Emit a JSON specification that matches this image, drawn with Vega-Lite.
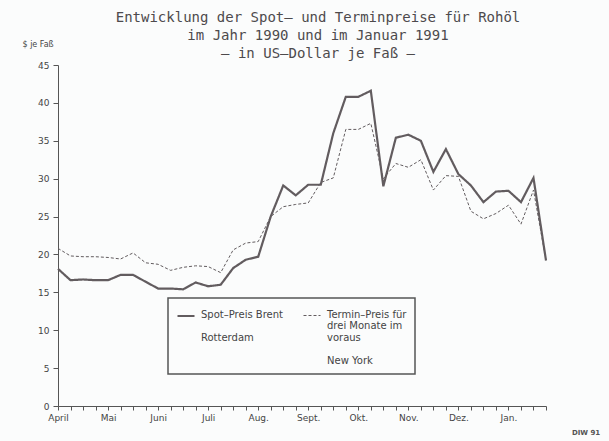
{
  "$schema": "https://vega.github.io/schema/vega-lite/v6.json",
  "width": 488,
  "height": 341,
  "autosize": "none",
  "padding": {"left": 58, "top": 65, "right": 63, "bottom": 35},
  "background": "#fbfcfc",
  "config": {"view": {"stroke": null}, "font": "DejaVu Sans"},
  "title": {
    "text": ["Entwicklung der Spot– und Terminpreise für Rohöl", "im Jahr 1990 und im Januar 1991", "– in US–Dollar je Faß –"],
    "fontSize": 14,
    "fontWeight": "normal",
    "font": "DejaVu Sans Mono",
    "color": "#4d4a4c",
    "anchor": "middle",
    "frame": "group",
    "dx": 16,
    "lineHeight": 18,
    "offset": -21
  },
  "datasets": {
    "preise": [
      {"k": 0, "reihe": "Spot", "preis": 18.1}, {"k": 1, "reihe": "Spot", "preis": 16.6}, {"k": 2, "reihe": "Spot", "preis": 16.7}, {"k": 3, "reihe": "Spot", "preis": 16.6},
      {"k": 4, "reihe": "Spot", "preis": 16.6}, {"k": 5, "reihe": "Spot", "preis": 17.3}, {"k": 6, "reihe": "Spot", "preis": 17.3}, {"k": 7, "reihe": "Spot", "preis": 16.4},
      {"k": 8, "reihe": "Spot", "preis": 15.5}, {"k": 9, "reihe": "Spot", "preis": 15.5}, {"k": 10, "reihe": "Spot", "preis": 15.4}, {"k": 11, "reihe": "Spot", "preis": 16.3},
      {"k": 12, "reihe": "Spot", "preis": 15.8}, {"k": 13, "reihe": "Spot", "preis": 16.0}, {"k": 14, "reihe": "Spot", "preis": 18.2}, {"k": 15, "reihe": "Spot", "preis": 19.3},
      {"k": 16, "reihe": "Spot", "preis": 19.7}, {"k": 17, "reihe": "Spot", "preis": 25.0}, {"k": 18, "reihe": "Spot", "preis": 29.1}, {"k": 19, "reihe": "Spot", "preis": 27.8},
      {"k": 20, "reihe": "Spot", "preis": 29.2}, {"k": 21, "reihe": "Spot", "preis": 29.2}, {"k": 22, "reihe": "Spot", "preis": 36.0}, {"k": 23, "reihe": "Spot", "preis": 40.8},
      {"k": 24, "reihe": "Spot", "preis": 40.8}, {"k": 25, "reihe": "Spot", "preis": 41.6}, {"k": 26, "reihe": "Spot", "preis": 29.0}, {"k": 27, "reihe": "Spot", "preis": 35.4},
      {"k": 28, "reihe": "Spot", "preis": 35.8}, {"k": 29, "reihe": "Spot", "preis": 35.0}, {"k": 30, "reihe": "Spot", "preis": 30.9}, {"k": 31, "reihe": "Spot", "preis": 33.9},
      {"k": 32, "reihe": "Spot", "preis": 30.6}, {"k": 33, "reihe": "Spot", "preis": 29.1}, {"k": 34, "reihe": "Spot", "preis": 26.9}, {"k": 35, "reihe": "Spot", "preis": 28.3},
      {"k": 36, "reihe": "Spot", "preis": 28.4}, {"k": 37, "reihe": "Spot", "preis": 26.9}, {"k": 38, "reihe": "Spot", "preis": 30.1}, {"k": 39, "reihe": "Spot", "preis": 19.2},
      {"k": 0, "reihe": "Termin", "preis": 20.8}, {"k": 1, "reihe": "Termin", "preis": 19.8}, {"k": 2, "reihe": "Termin", "preis": 19.7}, {"k": 3, "reihe": "Termin", "preis": 19.7},
      {"k": 4, "reihe": "Termin", "preis": 19.6}, {"k": 5, "reihe": "Termin", "preis": 19.4}, {"k": 6, "reihe": "Termin", "preis": 20.2}, {"k": 7, "reihe": "Termin", "preis": 18.9},
      {"k": 8, "reihe": "Termin", "preis": 18.7}, {"k": 9, "reihe": "Termin", "preis": 17.9}, {"k": 10, "reihe": "Termin", "preis": 18.3}, {"k": 11, "reihe": "Termin", "preis": 18.5},
      {"k": 12, "reihe": "Termin", "preis": 18.4}, {"k": 13, "reihe": "Termin", "preis": 17.6}, {"k": 14, "reihe": "Termin", "preis": 20.6}, {"k": 15, "reihe": "Termin", "preis": 21.5},
      {"k": 16, "reihe": "Termin", "preis": 21.7}, {"k": 17, "reihe": "Termin", "preis": 25.0}, {"k": 18, "reihe": "Termin", "preis": 26.3}, {"k": 19, "reihe": "Termin", "preis": 26.6},
      {"k": 20, "reihe": "Termin", "preis": 26.8}, {"k": 21, "reihe": "Termin", "preis": 29.5}, {"k": 22, "reihe": "Termin", "preis": 30.1}, {"k": 23, "reihe": "Termin", "preis": 36.5},
      {"k": 24, "reihe": "Termin", "preis": 36.5}, {"k": 25, "reihe": "Termin", "preis": 37.3}, {"k": 26, "reihe": "Termin", "preis": 30.0}, {"k": 27, "reihe": "Termin", "preis": 32.0},
      {"k": 28, "reihe": "Termin", "preis": 31.5}, {"k": 29, "reihe": "Termin", "preis": 32.5}, {"k": 30, "reihe": "Termin", "preis": 28.5}, {"k": 31, "reihe": "Termin", "preis": 30.4},
      {"k": 32, "reihe": "Termin", "preis": 30.3}, {"k": 33, "reihe": "Termin", "preis": 25.7}, {"k": 34, "reihe": "Termin", "preis": 24.7}, {"k": 35, "reihe": "Termin", "preis": 25.4},
      {"k": 36, "reihe": "Termin", "preis": 26.5}, {"k": 37, "reihe": "Termin", "preis": 24.0}, {"k": 38, "reihe": "Termin", "preis": 28.5}, {"k": 39, "reihe": "Termin", "preis": 19.2}
    ],
    "quelle": [{"k": 42.2, "v": -3.6, "t": "DIW 91"}]
  },
  "layer": [
    {
      "data": {"name": "preise"},
      "mark": {"type": "line", "color": "#625c5f"},
      "encoding": {
        "x": {
          "field": "k", "type": "quantitative",
          "scale": {"domain": [0, 39], "nice": false, "zero": false},
          "axis": {
            "values": [0,1,2,3,4,5,6,7,8,9,10,11,12,13,14,15,16,17,18,19,20,21,22,23,24,25,26,27,28,29,30,31,32,33,34,35,36,37,38,39],
            "labelExpr": "datum.value % 4 == 0 ? ['April','Mai','Juni','Juli','Aug.','Sept.','Okt.','Nov.','Dez.','Jan.'][datum.value / 4] : ''",
            "title": null, "grid": false,
            "domainColor": "#555", "tickColor": "#555", "tickSize": 4, "tickWidth": 1,
            "labelFontSize": 9, "labelColor": "#444", "labelPadding": 3,
            "labelFlush": false, "labelOverlap": false
          }
        },
        "y": {
          "field": "preis", "type": "quantitative",
          "scale": {"domain": [0, 45], "nice": false},
          "axis": {
            "values": [0,5,10,15,20,25,30,35,40,45],
            "title": "$ je Faß", "titleAngle": 0, "titleX": -36, "titleY": -21,
            "titleAlign": "left", "titleBaseline": "middle", "titleFontSize": 8,
            "titleFontWeight": "normal", "titleColor": "#444",
            "grid": false, "domainColor": "#555", "tickColor": "#555", "tickSize": 5,
            "labelFontSize": 9, "labelColor": "#444", "labelPadding": 4, "labelOverlap": false
          }
        },
        "strokeDash": {
          "field": "reihe", "type": "nominal",
          "scale": {"domain": ["Spot", "Termin"], "range": [[1, 0], [3, 2]]},
          "legend": {
            "title": null, "orient": "none", "legendX": 110, "legendY": 233,
            "direction": "horizontal", "columns": 2, "columnPadding": 18,
            "strokeColor": "#555", "padding": 8,
            "symbolType": "stroke", "symbolSize": 289, "symbolStrokeColor": "#625c5f",
            "labelFontSize": 10, "labelColor": "#444", "labelBaseline": "top", "labelOffset": 5, "labelLimit": 200,
            "labelExpr": "datum.label == 'Spot' ? ['Spot–Preis Brent', '\u2800', 'Rotterdam', '\u2800', '\u2800'] : ['Termin–Preis für', 'drei Monate im', 'voraus', '\u2800', 'New York']",
            "encode": {"labels": {"update": {"dy": {"value": -6}, "lineHeight": {"value": 11.5}}}, "legend": {"update": {"strokeWidth": {"value": 1.5}}}}
          }
        },
        "strokeWidth": {
          "field": "reihe", "type": "nominal",
          "scale": {"domain": ["Spot", "Termin"], "range": [2.2, 1]},
          "legend": {
            "title": null, "orient": "none", "legendX": 110, "legendY": 233,
            "direction": "horizontal", "columns": 2, "columnPadding": 18,
            "strokeColor": "#555", "padding": 8,
            "symbolType": "stroke", "symbolSize": 289, "symbolStrokeColor": "#625c5f",
            "labelFontSize": 10, "labelColor": "#444", "labelBaseline": "top", "labelOffset": 5, "labelLimit": 200,
            "labelExpr": "datum.label == 'Spot' ? ['Spot–Preis Brent', '\u2800', 'Rotterdam', '\u2800', '\u2800'] : ['Termin–Preis für', 'drei Monate im', 'voraus', '\u2800', 'New York']",
            "encode": {"labels": {"update": {"dy": {"value": -6}, "lineHeight": {"value": 11.5}}}, "legend": {"update": {"strokeWidth": {"value": 1.5}}}}
          }
        }
      }
    },
    {
      "data": {"name": "quelle"},
      "mark": {"type": "text", "fontSize": 7, "fontWeight": "bold", "color": "#555"},
      "encoding": {
        "x": {
          "field": "k", "type": "quantitative",
          "scale": {"domain": [0, 39], "nice": false, "zero": false},
          "axis": {
            "values": [0,1,2,3,4,5,6,7,8,9,10,11,12,13,14,15,16,17,18,19,20,21,22,23,24,25,26,27,28,29,30,31,32,33,34,35,36,37,38,39],
            "labelExpr": "datum.value % 4 == 0 ? ['April','Mai','Juni','Juli','Aug.','Sept.','Okt.','Nov.','Dez.','Jan.'][datum.value / 4] : ''",
            "title": null, "grid": false,
            "domainColor": "#555", "tickColor": "#555", "tickSize": 4, "tickWidth": 1,
            "labelFontSize": 9, "labelColor": "#444", "labelPadding": 3,
            "labelFlush": false, "labelOverlap": false
          }
        },
        "y": {
          "field": "v", "type": "quantitative",
          "scale": {"domain": [0, 45], "nice": false},
          "axis": {
            "values": [0,5,10,15,20,25,30,35,40,45],
            "title": "$ je Faß", "titleAngle": 0, "titleX": -36, "titleY": -21,
            "titleAlign": "left", "titleBaseline": "middle", "titleFontSize": 8,
            "titleFontWeight": "normal", "titleColor": "#444",
            "grid": false, "domainColor": "#555", "tickColor": "#555", "tickSize": 5,
            "labelFontSize": 9, "labelColor": "#444", "labelPadding": 4, "labelOverlap": false
          }
        },
        "text": {"field": "t"}
      }
    }
  ]
}
